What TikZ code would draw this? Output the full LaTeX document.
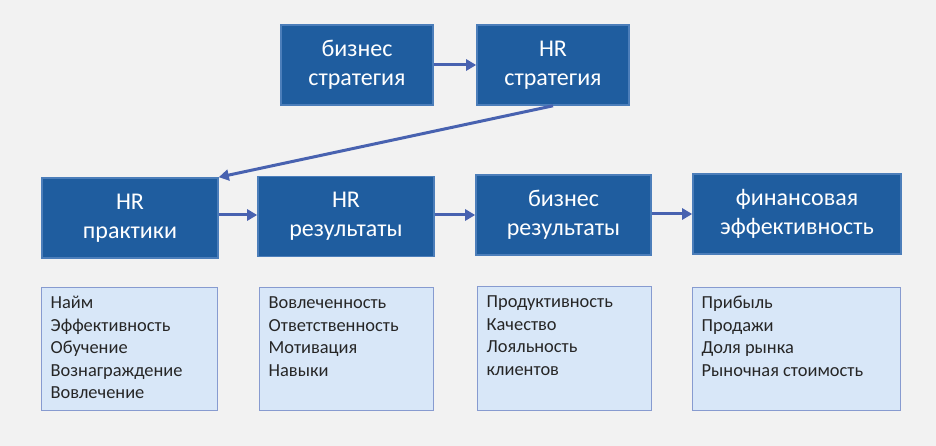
\documentclass[tikz,border=0pt]{standalone}
\usepackage{fontspec}
\setmainfont{Carlito}
\usetikzlibrary{arrows.meta,positioning,calc}
\definecolor{bg}{RGB}{242,242,242}
\definecolor{darkfill}{RGB}{31,93,159}
\definecolor{darkline}{RGB}{76,126,186}
\definecolor{lightfill}{RGB}{216,231,248}
\definecolor{lightline}{RGB}{135,155,208}
\definecolor{arrowc}{RGB}{72,98,176}
\tikzset{
  darkbox/.style={draw=darkline, line width=1.6pt, fill=darkfill, text=white, align=center, font=\fontsize{24}{29.4}\selectfont, inner sep=0pt},
  lightbox/.style={draw=lightline, line width=1pt, fill=lightfill, inner sep=0pt},
  listtext/.style={anchor=north west, align=left, inner sep=0pt, font=\fontsize{18.4}{22.5}\selectfont, text=black!85},
  flow/.style={draw=arrowc, line width=3pt, -{Triangle[length=10pt,width=11pt]}}
}
\begin{document}
\begin{tikzpicture}[x=1pt,y=-1pt]
\fill[bg] (0,0) rectangle (936,446);
\useasboundingbox (0,0) rectangle (936,446);
% top row
\node[darkbox, minimum width=152pt, minimum height=80pt] (bs) at (357,65) {\raisebox{-2pt}{бизнес}\\\raisebox{-2pt}{стратегия}};
\node[darkbox, minimum width=152pt, minimum height=80pt] (hs) at (553,65) {\raisebox{-2pt}{HR}\\\raisebox{-2pt}{стратегия}};
% middle row
\node[darkbox, minimum width=176pt, minimum height=80pt] (hp) at (130,218) {\raisebox{-2pt}{HR}\\\raisebox{-2pt}{практики}};
\node[darkbox, minimum width=176pt, minimum height=80pt] (hr) at (346,216.5) {\raisebox{-2pt}{HR}\\\raisebox{-2pt}{результаты}};
\node[darkbox, minimum width=175pt, minimum height=80pt] (br) at (563.5,215) {\raisebox{-2pt}{бизнес}\\\raisebox{-2pt}{результаты}};
\node[darkbox, minimum width=208pt, minimum height=80pt] (fe) at (797,214) {\raisebox{-2pt}{финансовая}\\\raisebox{-2pt}{эффективность}};
% arrows
\draw[flow] (bs.east) -- (hs.west);
\draw[flow] (hs.south) -- (hp.north east);
\draw[flow] (hp.east |- 0,215) -- (hr.west |- 0,215);
\draw[flow] (hr.east |- 0,215) -- (br.west |- 0,215);
\draw[flow] (br.east |- 0,214) -- (fe.west |- 0,214);
% bottom boxes
\node[lightbox, minimum width=176pt, minimum height=123pt] (l1) at (129,348.5) {};
\node[lightbox, minimum width=174pt, minimum height=123pt] (l2) at (346,348.5) {};
\node[lightbox, minimum width=174pt, minimum height=124pt] (l3) at (564,348) {};
\node[lightbox, minimum width=208pt, minimum height=123pt] (l4) at (796,348.5) {};
\node[listtext] (t1) at ($(l1.north west)+(10,6.5)$) {\strut Найм\\Эффективность\\Обучение\\Вознаграждение\\Вовлечение};
\node[listtext] (t2) at ($(l2.north west)+(10,6.5)$) {\strut Вовлеченность\\Ответственность\\Мотивация\\Навыки};
\node[listtext] (t3) at ($(l3.north west)+(10,6.5)$) {\strut Продуктивность\\Качество\\Лояльность\\клиентов};
\node[listtext] (t4) at ($(l4.north west)+(10,6.5)$) {\strut Прибыль\\Продажи\\Доля рынка\\Рыночная стоимость};
\end{tikzpicture}
\end{document}
